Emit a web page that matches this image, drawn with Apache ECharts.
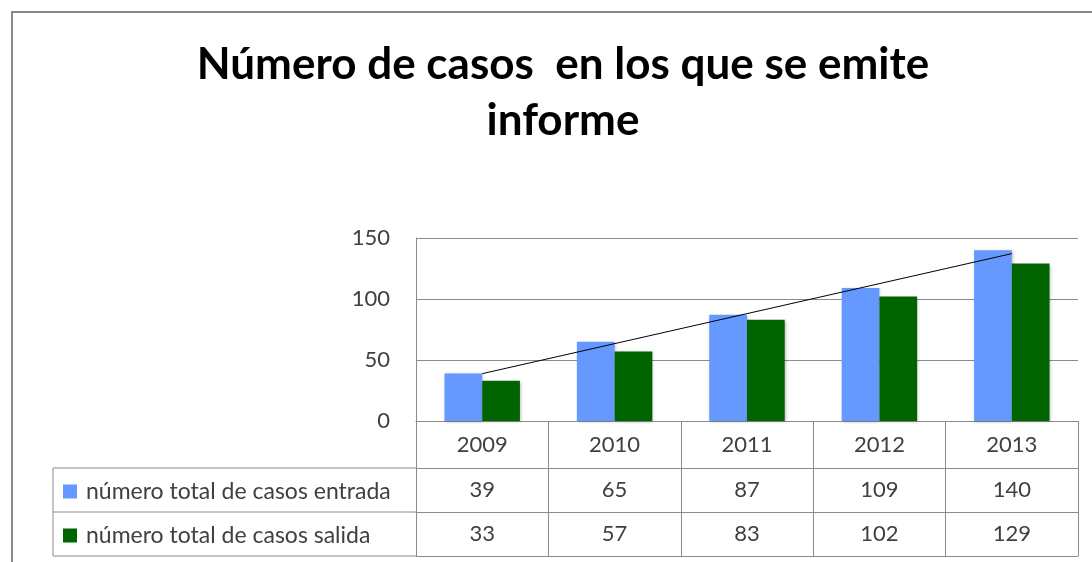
<!DOCTYPE html>
<html>
<head>
    <meta charset="utf-8">
    <title>Número de casos</title>
    <script src="https://cdn.jsdelivr.net/npm/echarts@6/dist/echarts.min.js"></script>
    <style>
        html, body { margin: 0; padding: 0; background: #fff; }
    </style>
</head>
<body>
    <div id="main" style="width: 1092px;height:562px;"></div>
    <script type="text/javascript">
        // datos
        var years = ['2009', '2010', '2011', '2012', '2013'];
        var entrada = [39, 65, 87, 109, 140];
        var salida = [33, 57, 83, 102, 129];
        // linea de tendencia (extremos)
        var trend = [38.8, '-', '-', '-', 137.2];
        var seriesNames = ['número total de casos entrada', 'número total de casos salida'];

        var gray = '#8c8c8c';
        var textColor = '#404040';
        var font = 'Lato';

        var myChart = echarts.init(document.getElementById('main'));

        function tableAxis(offset, values, showTicks) {
            return {
                type: 'category',
                data: years,
                position: 'bottom',
                offset: offset,
                boundaryGap: true,
                axisLine: { show: true, lineStyle: { color: gray, width: 1 } },
                axisTick: { show: showTicks, interval: 0, length: showTicks ? 44 : 0, lineStyle: { color: gray } },
                axisLabel: {
                    show: !!values,
                    interval: 0,
                    margin: 11,
                    color: textColor,
                    fontFamily: font,
                    fontSize: 22,
                    formatter: function (v, i) { return values ? String(values[i]) : ''; }
                },
                splitLine: { show: false }
            };
        }

        var yearAxis = tableAxis(0, years, true);
        yearAxis.axisTick.length = 47;
        yearAxis.axisLabel.margin = 13;

        myChart.setOption({
            title: {
                text: 'Número de casos  en los que se emite\ninforme',
                left: 558,
                textAlign: 'center',
                top: 32,
                textStyle: {
                    fontFamily: font,
                    fontWeight: 'bold',
                    fontSize: 44,
                    lineHeight: 56,
                    color: '#000'
                }
            },
            legend: {
                data: seriesNames,
                orient: 'vertical',
                left: 58,
                top: 475,
                itemWidth: 14,
                itemHeight: 14,
                itemGap: 21,
                icon: 'rect',
                textStyle: { fontFamily: font, fontSize: 23, color: textColor, padding: [0, 0, 0, 4] }
            },
            grid: {
                left: 416,
                right: 14,
                top: 238,
                bottom: 141,
                containLabel: false
            },
            xAxis: [
                yearAxis,
                tableAxis(47, entrada, true),
                tableAxis(91, salida, true),
                tableAxis(135, null, false)
            ],
            yAxis: {
                type: 'value',
                min: 0,
                max: 150,
                interval: 50,
                axisLine: { show: true, lineStyle: { color: gray } },
                axisTick: { show: false },
                axisLabel: { margin: 26, color: textColor, fontFamily: font, fontSize: 22 },
                splitLine: { lineStyle: { color: gray, width: 1 } }
            },
            graphic: [
                // marco exterior
                { type: 'rect', shape: { x: 12, y: 12, width: 1200, height: 700 }, style: { fill: 'none', stroke: '#8a8a8a', lineWidth: 2 }, silent: true },
                // celdas de la leyenda
                { type: 'line', shape: { x1: 53, y1: 468, x2: 416, y2: 468 }, style: { stroke: gray, lineWidth: 1 } },
                { type: 'line', shape: { x1: 53, y1: 512, x2: 416, y2: 512 }, style: { stroke: gray, lineWidth: 1 } },
                { type: 'line', shape: { x1: 53, y1: 556, x2: 416, y2: 556 }, style: { stroke: gray, lineWidth: 1 } },
                { type: 'line', shape: { x1: 53, y1: 468, x2: 53, y2: 556 }, style: { stroke: gray, lineWidth: 1 } }
            ],
            series: [
                {
                    name: seriesNames[0],
                    type: 'bar',
                    data: entrada,
                    barGap: 0,
                    barCategoryGap: '43%',
                    itemStyle: { color: '#6699ff', shadowColor: 'rgba(0,0,0,0.25)', shadowBlur: 3, shadowOffsetX: 1, shadowOffsetY: 1 }
                },
                {
                    name: seriesNames[1],
                    type: 'bar',
                    data: salida,
                    itemStyle: { color: '#006400', shadowColor: 'rgba(0,0,0,0.25)', shadowBlur: 3, shadowOffsetX: 1, shadowOffsetY: 1 }
                },
                {
                    name: 'tendencia',
                    type: 'line',
                    data: trend,
                    connectNulls: true,
                    symbol: 'none',
                    lineStyle: { color: '#000', width: 1 },
                    z: 5
                }
            ]
        });
    </script>
</body>
</html>
